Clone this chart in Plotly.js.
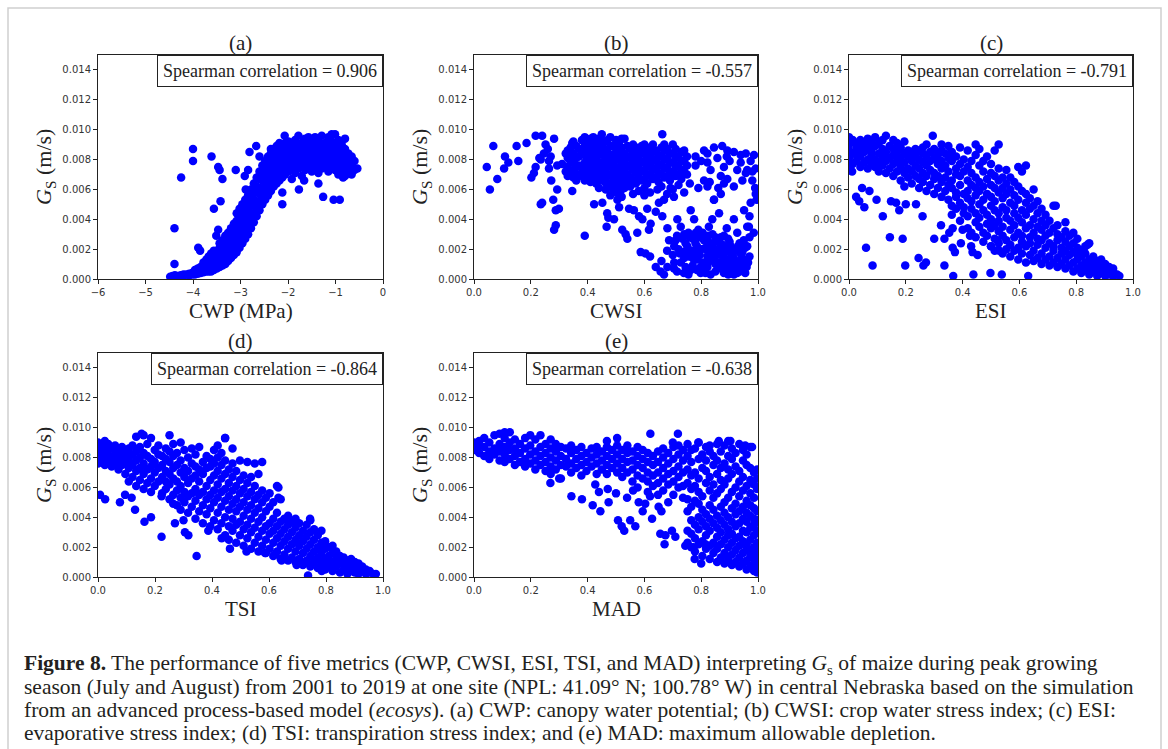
<!DOCTYPE html>
<html><head><meta charset="utf-8">
<script src="https://cdn.plot.ly/plotly-3.0.1.min.js"></script>
<style>html,body{margin:0;padding:0;background:#fff;}#chart{width:1168px;height:749px;}</style>
</head><body><div id="chart"></div>
<script>
const panelLabels = ['(a)', '(b)', '(c)', '(d)', '(e)'];
const xTitles = ['CWP (MPa)', 'CWSI', 'ESI', 'TSI', 'MAD'];
const yTitle = '<i>G</i><sub>S</sub> (m/s)';
const spearmanR = [0.906, -0.557, -0.791, -0.864, -0.638];
const yTickVals = [0, 0.002, 0.004, 0.006, 0.008, 0.010, 0.012, 0.014];
const cwpTickVals = [-6, -5, -4, -3, -2, -1, 0];
const indexTickVals = [0, 0.2, 0.4, 0.6, 0.8, 1.0];

// each entry: [x, [Gs values (m/s) read at that x]]
const cwpPoints = [
[-4.48,[0.00015]],[-4.43,[0.0002]],[-4.38,[0.00015,0.00025]],[-4.32,[0.0002]],[-4.26,[0.00025,0.00015]],
[-4.2,[0.0002,0.0003]],[-4.14,[0.0003]],[-4.08,[0.00035,0.00025]],[-4.02,[0.0004,0.0003]],
[-3.96,[0.00045,0.0003,0.0006]],[-3.9,[0.0005,0.00035,0.0007]],[-3.84,[0.00055,0.0004,0.0008]],
[-3.78,[0.0006,0.00045,0.0009,0.0011]],[-3.72,[0.0007,0.0005,0.001,0.0013]],[-3.67,[0.0008,0.0005,0.0012,0.0015]],
[-3.62,[0.0005,0.0009,0.0013,0.0017]],[-3.56,[0.0006,0.0011,0.0014,0.0019]],[-3.5,[0.0007,0.001,0.0015,0.0018]],
[-3.44,[0.0008,0.0012,0.0017,0.0021,0.0024]],[-3.38,[0.0009,0.0014,0.0018,0.0022,0.0026]],
[-3.32,[0.001,0.0015,0.0019,0.0024,0.0029]],[-3.26,[0.0012,0.0017,0.0022,0.0026,0.0031]],
[-3.2,[0.0014,0.0019,0.0023,0.0028,0.0034]],[-3.14,[0.0016,0.0021,0.0027,0.0031,0.0037]],
[-3.08,[0.0018,0.0024,0.0028,0.0033,0.0039,0.0044]],[-3.02,[0.0021,0.0026,0.0032,0.0036,0.0041,0.0047]],
[-2.96,[0.0024,0.0029,0.0034,0.004,0.0045,0.005]],[-2.9,[0.0027,0.0033,0.0037,0.0042,0.0048,0.0053]],
[-2.84,[0.003,0.0035,0.0041,0.0046,0.005,0.0056]],[-2.78,[0.0034,0.0039,0.0044,0.0049,0.0055,0.006]],
[-2.72,[0.0038,0.0043,0.0049,0.0053,0.0058,0.0064]],[-2.66,[0.0042,0.0047,0.0052,0.0058,0.0062,0.0068]],
[-2.6,[0.0046,0.0051,0.0057,0.0061,0.0067,0.0072]],[-2.54,[0.005,0.0055,0.006,0.0066,0.007,0.0076]],
[-2.48,[0.0053,0.0059,0.0063,0.0068,0.0074,0.0079]],[-2.42,[0.0056,0.0061,0.0067,0.0071,0.0077,0.0082]],
[-2.36,[0.0059,0.0064,0.0069,0.0075,0.0079,0.0084]],[-2.3,[0.0062,0.0068,0.0072,0.0077,0.0083,0.0087]],
[-2.24,[0.0064,0.0069,0.0075,0.0079,0.0085,0.0089]],[-2.18,[0.0066,0.0072,0.0076,0.0082,0.0086,0.0091]],
[-2.12,[0.0068,0.0073,0.0079,0.0083,0.0088]],
[-2.06,[0.007,0.0076,0.0081,0.0086,0.0091]],[-1.99,[0.0072,0.0077,0.0082,0.0088,0.0092]],
[-1.92,[0.0067,0.0075,0.008,0.0085,0.009]],[-1.85,[0.0071,0.0078,0.0083,0.0087,0.0093]],
[-1.78,[0.0074,0.0079,0.0084,0.0089,0.0096]],[-1.71,[0.0069,0.0076,0.0081,0.0086,0.0091]],
[-1.64,[0.0073,0.0078,0.0083,0.0088,0.0094]],[-1.57,[0.0076,0.008,0.0085,0.009,0.0095]],
[-1.5,[0.0072,0.0077,0.0082,0.0087,0.0092]],[-1.43,[0.0075,0.008,0.0084,0.0089,0.0095]],
[-1.36,[0.0071,0.0078,0.0083,0.0088,0.0093]],[-1.29,[0.0074,0.0079,0.0085,0.009,0.0096]],
[-1.22,[0.0076,0.0081,0.0086,0.0091]],[-1.15,[0.0072,0.0079,0.0084,0.0089,0.0095]],
[-1.08,[0.0075,0.008,0.0086,0.0092,0.0097]],[-1.01,[0.0073,0.0078,0.0083,0.0089,0.0097]],
[-0.94,[0.007,0.0076,0.0082,0.0087,0.0093]],[-0.87,[0.0073,0.0079,0.0084,0.009]],
[-0.8,[0.0069,0.0075,0.0081,0.0087,0.0094]],[-0.73,[0.0072,0.0078,0.0084]],
[-0.66,[0.007,0.0076,0.0082]],[-0.6,[0.0073,0.0079]],[-0.54,[0.0074]],
[-4.0,[0.0087,0.0079]],[-4.25,[0.0068]],[-3.61,[0.0082]],[-3.47,[0.0075,0.0033]],[-3.44,[0.0073]],
[-3.38,[0.0067]],[-3.42,[0.0052]],[-3.56,[0.0047]],[-4.39,[0.0034,0.001]],[-3.51,[0.0029]],
[-3.89,[0.0021]],[-3.85,[0.0019]],[-3.1,[0.0073]],[-2.84,[0.0073]],[-2.91,[0.0069]],[-2.89,[0.006]],
[-2.81,[0.0085]],[-2.67,[0.0089]],[-2.6,[0.0082]],[-2.36,[0.0087]],[-2.07,[0.0096]],[-2.19,[0.009]],
[-2.12,[0.0058,0.005]],[-1.77,[0.006]],[-1.66,[0.0066]],[-1.36,[0.0064]],[-1.26,[0.0055]],
[-1.04,[0.0053]],[-0.91,[0.0053]],[-0.84,[0.0068]]
];

const cwsiPoints = [
[0.045,[0.0075]],[0.056,[0.006]],[0.068,[0.0089]],[0.082,[0.0067]],[0.106,[0.0074]],[0.109,[0.0082]],
[0.121,[0.0078]],[0.15,[0.0089]],[0.156,[0.0079]],[0.185,[0.0091]],[0.202,[0.0068]],[0.211,[0.0071]],
[0.217,[0.0096,0.0075]],[0.235,[0.008,0.005]],[0.24,[0.0096,0.0051]],[0.246,[0.0084]],[0.252,[0.009]],
[0.264,[0.0079,0.0074]],[0.282,[0.0094,0.0033]],[0.272,[0.0066]],[0.293,[0.006,0.0076]],[0.279,[0.0053]],
[0.288,[0.0046,0.0036]],[0.299,[0.0047]],[0.39,[0.0029]],[0.31,[0.0077]],[0.323,[0.0084,0.0072]],
[0.346,[0.0091,0.0059]],[0.352,[0.0069]],[0.34,[0.008]],[0.23,[0.0081]],[0.26,[0.0087]],[0.27,[0.0082]],
[0.33,[0.0069,0.0075,0.0081,0.0086]],[0.35,[0.0068,0.0073,0.0079,0.0084,0.0092]],
[0.37,[0.007,0.0076,0.0082,0.0087]],[0.39,[0.0066,0.0072,0.0078,0.0083,0.0089,0.0095]],
[0.41,[0.0065,0.0071,0.0077,0.0082,0.0088,0.0094]],[0.43,[0.0064,0.007,0.0075,0.0081,0.0086,0.0092]],
[0.45,[0.0067,0.0073,0.0078,0.0084,0.009,0.0097]],[0.47,[0.0062,0.0069,0.0075,0.008,0.0086,0.0093]],
[0.49,[0.006,0.0066,0.0072,0.0078,0.0083,0.0089]],[0.51,[0.0063,0.0069,0.0074,0.008,0.0085,0.0091]],
[0.53,[0.0061,0.0067,0.0073,0.0079,0.0084,0.0094]],[0.55,[0.0062,0.0068,0.0075,0.0081,0.0087]],
[0.57,[0.0064,0.0071,0.0077,0.0082,0.0088]],[0.59,[0.0066,0.0072,0.0078,0.0084,0.0089]],
[0.61,[0.0064,0.007,0.0076,0.0081,0.0087]],[0.63,[0.0067,0.0073,0.0079,0.0085,0.009]],
[0.65,[0.0065,0.0071,0.0077,0.0083]],[0.67,[0.0068,0.0074,0.008,0.0086,0.009]],
[0.69,[0.0066,0.0072,0.0078,0.0084]],[0.71,[0.0069,0.0075,0.0081,0.0087]],
[0.73,[0.0067,0.0073,0.0079,0.0085]],[0.75,[0.007,0.0076,0.0082]],[0.663,[0.0097]],
[0.34,[0.0072,0.0078,0.0088]],[0.36,[0.0066,0.0075,0.0081,0.0089]],[0.38,[0.0069,0.0074,0.0086,0.0093]],
[0.4,[0.0068,0.0075,0.008,0.0086,0.0091]],[0.42,[0.0067,0.0073,0.0079,0.0085,0.009,0.0095]],
[0.44,[0.0066,0.0072,0.0077,0.0083,0.0088,0.0094]],[0.46,[0.0065,0.0071,0.0076,0.0082,0.0087,0.0092]],
[0.48,[0.0064,0.007,0.0077,0.0083,0.0089,0.0095]],[0.5,[0.0063,0.0068,0.0075,0.0081,0.0087,0.0093]],
[0.52,[0.0065,0.0071,0.0077,0.0082,0.0088,0.0094]],[0.54,[0.0064,0.007,0.0076,0.0082,0.0089]],
[0.56,[0.0066,0.0073,0.0079,0.0085,0.009]],[0.58,[0.0068,0.0074,0.008,0.0086]],
[0.6,[0.0067,0.0073,0.0079,0.0084,0.009]],[0.62,[0.0069,0.0075,0.0082,0.0088]],
[0.64,[0.0068,0.0074,0.008,0.0086]],[0.66,[0.007,0.0076,0.0082,0.0088]],
[0.68,[0.0069,0.0075,0.0081,0.0087]],[0.7,[0.0071,0.0078,0.0084,0.009]],
[0.72,[0.007,0.0076,0.0082]],[0.74,[0.0072,0.0079,0.0086]],
[0.81,[0.0086,0.0066]],[0.822,[0.0084,0.0062,0.0078]],[0.845,[0.0088,0.0053]],[0.874,[0.0089]],
[0.892,[0.0086,0.0067]],[0.915,[0.0085,0.0062,0.004]],[0.939,[0.0083,0.0078]],[0.957,[0.0084,0.0071]],
[0.986,[0.0083]],[0.974,[0.0079,0.0051]],[0.992,[0.0074,0.0057]],[0.857,[0.0081]],[0.88,[0.0075]],
[0.9,[0.0079]],[0.927,[0.0073,0.0031]],[0.89,[0.0082]],[0.833,[0.0073]],[0.869,[0.0069,0.0057,0.0028]],
[0.945,[0.0066]],[0.98,[0.0066]],[0.962,[0.0073,0.0022,0.0035]],[0.78,[0.0082,0.0076]],[0.8,[0.0079]],
[0.423,[0.005]],[0.452,[0.0051]],[0.464,[0.006]],[0.469,[0.0044]],[0.473,[0.0041]],[0.467,[0.0035]],
[0.493,[0.004]],[0.505,[0.0053]],[0.516,[0.0059]],[0.522,[0.0033]],[0.534,[0.003]],[0.54,[0.0027]],
[0.511,[0.0048]],[0.546,[0.0047]],[0.563,[0.0046]],[0.575,[0.0031]],[0.581,[0.0042]],[0.593,[0.004]],
[0.587,[0.0018]],[0.604,[0.0017]],[0.61,[0.0047]],[0.616,[0.0033]],[0.622,[0.0037]],[0.64,[0.0045]],
[0.646,[0.006]],[0.651,[0.0051]],[0.669,[0.0053]],[0.681,[0.0034]],[0.687,[0.0026]],[0.692,[0.0061]],
[0.704,[0.0055]],[0.716,[0.004]],[0.728,[0.0035]],[0.734,[0.0027]],[0.739,[0.0018]],[0.751,[0.0022]],
[0.757,[0.0015]],[0.763,[0.0046]],[0.775,[0.004]],[0.781,[0.0031]],[0.786,[0.0013]],[0.798,[0.0008]],
[0.81,[0.0026]],[0.822,[0.0019]],[0.827,[0.0035]],[0.839,[0.004]],[0.845,[0.0053]],[0.863,[0.0044]],
[0.88,[0.0017]],[0.892,[0.0013]],[0.904,[0.0022]],[0.939,[0.0017]],[0.951,[0.0046]],[0.957,[0.0011]],
[0.968,[0.0035]],[0.663,[0.0042]],
[0.657,[0.0005]],[0.669,[0.0003]],[0.681,[0.0008]],[0.704,[0.0007]],[0.728,[0.0011]],[0.739,[0.0004]],
[0.763,[0.0006]],[0.775,[0.0013]],[0.798,[0.0004]],[0.822,[0.0008]],[0.833,[0.0003]],[0.845,[0.0014]],
[0.869,[0.0007]],[0.88,[0.0004]],[0.892,[0.0008]],[0.904,[0.0013]],[0.927,[0.0004]],[0.939,[0.0008]],
[0.951,[0.0013]],[0.822,[0.0015]],[0.857,[0.0019]],[0.892,[0.0022]],[0.786,[0.0018]],[0.751,[0.0017]],
[0.78,[0.0024]],[0.8,[0.002]],[0.82,[0.0026]],[0.84,[0.0022]],[0.86,[0.0025]],[0.88,[0.0029]],
[0.9,[0.0025,0.0005]],[0.85,[0.001]],[0.87,[0.0016]],[0.92,[0.001]],[0.94,[0.0013]],[0.91,[0.0018]],
[0.83,[0.0012]],[0.81,[0.0006]],[0.77,[0.0009]],[0.74,[0.0014,0.003]],[0.72,[0.002]],[0.7,[0.0016]],
[0.68,[0.0019]],[0.66,[0.0012]],[0.64,[0.0008]],[0.62,[0.0015]],[0.76,[0.0028]],[0.79,[0.0033]],
[0.71,[0.0026]],[0.97,[0.0015]],[0.96,[0.0008]],[0.95,[0.0026]],[0.93,[0.0022]],[0.89,[0.0034]],[0.84,[0.003]],
[0.705,[0.0022,0.0011]],[0.715,[0.0005,0.0029]],[0.725,[0.0017]],[0.745,[0.0008,0.0024]],[0.755,[0.0031,0.0003]],
[0.765,[0.0019]],[0.77,[0.0014,0.0027]],[0.785,[0.0006,0.0022]],[0.795,[0.0016,0.0028]],[0.805,[0.0011,0.0031]],
[0.815,[0.0021,0.0004]],[0.825,[0.0013,0.0029]],[0.835,[0.0018,0.0024]],[0.85,[0.0005,0.0028]],[0.855,[0.0016]],
[0.865,[0.0011,0.0021]],[0.875,[0.0023,0.0009]],[0.885,[0.0013,0.0019]],[0.895,[0.0003,0.0027]],
[0.905,[0.0009,0.0017]],[0.915,[0.0014,0.0003]],[0.925,[0.0019,0.0007]],[0.935,[0.0005,0.0024]],
[0.945,[0.0018]],[0.955,[0.0004,0.0021]],[0.965,[0.0011]],[0.97,[0.0028]],
[0.98,[0.0072]],[0.99,[0.0061]],[0.995,[0.0053]],[0.97,[0.0042]],[0.985,[0.0031]],
[0.44,[0.0061]],[0.48,[0.0056]],[0.5,[0.0058]],[0.52,[0.0055]],[0.56,[0.0057]],[0.58,[0.0059]],
[0.6,[0.0056,0.0061]],[0.62,[0.0058]],[0.66,[0.0062]],[0.68,[0.0057]],[0.7,[0.006]],[0.72,[0.0063]],
[0.74,[0.0058]],[0.76,[0.0064]],[0.79,[0.0061]],[0.83,[0.0065]],[0.86,[0.0061]],[0.88,[0.0064]]
];

const esiPoints = [
[0.0,[0.0073,0.0081,0.0086,0.009,0.0095]],[0.013,[0.0077,0.0084,0.0093]],[0.026,[0.0079,0.0083,0.0088,0.0091]],
[0.04,[0.0075,0.0082,0.0087,0.0093]],[0.053,[0.0078,0.0085,0.009]],[0.066,[0.0074,0.008,0.0088,0.0094]],
[0.079,[0.0077,0.0083,0.0086,0.0092]],[0.092,[0.0075,0.008,0.0089,0.0095]],[0.105,[0.0072,0.0078,0.0084,0.0091]],
[0.118,[0.0076,0.0082,0.0087,0.0093]],[0.13,[0.0071,0.0079,0.0085,0.0096]],[0.143,[0.0074,0.0081,0.0089]],
[0.156,[0.0069,0.0077,0.0083,0.0087,0.0093]],[0.169,[0.0072,0.0079,0.0085,0.0091]],
[0.182,[0.0066,0.0075,0.0081,0.0088]],[0.195,[0.0062,0.0071,0.0078,0.0084,0.0092]],
[0.208,[0.0068,0.0074,0.0082,0.0086]],[0.221,[0.0064,0.0072,0.0079,0.0085]],
[0.234,[0.0069,0.0076,0.0083,0.0087]],[0.247,[0.0061,0.0067,0.0074,0.008,0.0086]],
[0.26,[0.0065,0.0071,0.0078,0.0084,0.0088]],[0.273,[0.0059,0.0069,0.0076,0.0082,0.009]],
[0.286,[0.0063,0.0073,0.0079,0.0085]],[0.295,[0.0096]],[0.3,[0.0057,0.0067,0.0071,0.0081,0.0087]],
[0.313,[0.0061,0.0069,0.0077,0.0083]],[0.326,[0.0055,0.0065,0.0074,0.0079,0.0086,0.009]],
[0.339,[0.0059,0.0068,0.0076,0.0084]],[0.35,[0.0053,0.0063,0.0072,0.0081,0.0089]],
[0.362,[0.0043,0.0049,0.0061,0.0066,0.0079,0.0085]],[0.377,[0.0047,0.0055,0.0058,0.007,0.0074,0.0082]],
[0.391,[0.0039,0.0051,0.0063,0.0069,0.0077,0.0088]],[0.404,[0.0044,0.0048,0.0057,0.0072,0.008]],
[0.418,[0.0034,0.0042,0.0054,0.0059,0.0066,0.0075,0.0086]],[0.431,[0.0031,0.0047,0.0052,0.0063,0.0071,0.0079]],
[0.446,[0.0028,0.0038,0.0044,0.0056,0.0061,0.0068,0.0083,0.009]],[0.459,[0.0035,0.0041,0.005,0.0059,0.0065,0.0076,0.0087]],
[0.473,[0.0025,0.0031,0.0046,0.0053,0.0062,0.0072,0.0079]],[0.486,[0.0029,0.0037,0.0043,0.0057,0.0067,0.0082]],
[0.5,[0.0022,0.0034,0.004,0.0049,0.0055,0.0063,0.0071,0.0077]],[0.513,[0.0019,0.0027,0.0036,0.0046,0.0052,0.0061,0.0069,0.0086]],
[0.527,[0.0024,0.0032,0.0039,0.0044,0.0058,0.0066,0.0074,0.009]],[0.541,[0.0017,0.0029,0.0035,0.0048,0.0054,0.0061,0.0068]],
[0.554,[0.002,0.0026,0.0041,0.0046,0.0057,0.0064,0.0073]],[0.568,[0.0015,0.0023,0.0033,0.0039,0.0051,0.006,0.0068]],
[0.582,[0.0019,0.0028,0.0036,0.0044,0.0049,0.0056,0.0065]],[0.596,[0.0013,0.0021,0.0031,0.0041,0.0053,0.0062,0.0075]],
[0.609,[0.0017,0.0025,0.0029,0.0038,0.0046,0.0059,0.0072]],[0.623,[0.0011,0.0022,0.0034,0.0043,0.0051,0.0057,0.0076]],
[0.637,[0.0016,0.0024,0.0028,0.0036,0.0047,0.0054]],[0.65,[0.0012,0.0019,0.0031,0.004,0.0049,0.006]],
[0.664,[0.0014,0.0023,0.0027,0.0035,0.0044,0.0052]],[0.678,[0.001,0.0017,0.0026,0.0033,0.0039,0.0047]],
[0.692,[0.0013,0.0021,0.0029,0.0036,0.0043]],[0.706,[0.0009,0.0015,0.0024,0.0031,0.0039]],
[0.72,[0.0011,0.0019,0.0022,0.0034,0.0049]],[0.734,[0.0008,0.0014,0.0026,0.003,0.0036]],
[0.748,[0.001,0.0017,0.0021,0.0028]],[0.762,[0.0007,0.0013,0.0019,0.0025,0.0032,0.0038]],
[0.776,[0.0009,0.0016,0.0022,0.0029]],[0.79,[0.0005,0.0011,0.0018,0.0024,0.0031]],
[0.804,[0.0007,0.0013,0.0016,0.0021,0.0027]],[0.818,[0.0004,0.0009,0.0015,0.0019]],
[0.832,[0.0006,0.0011,0.0017,0.0022]],[0.846,[0.0003,0.0008,0.0013,0.0024]],[0.86,[0.0005,0.001,0.0015]],
[0.874,[0.0002,0.0007,0.0012]],[0.888,[0.0004,0.0009,0.0013]],[0.902,[0.0002,0.0006,0.001]],
[0.916,[0.0003,0.0008]],[0.93,[0.0002,0.0005,0.0007]],[0.944,[0.0003]],[0.952,[0.0002]],
[0.011,[0.0072]],[0.025,[0.0055]],[0.046,[0.0061]],[0.036,[0.0052]],[0.054,[0.0048]],[0.072,[0.0059]],
[0.097,[0.0053]],[0.119,[0.0042]],[0.148,[0.0052]],[0.166,[0.0051]],[0.177,[0.0046]],[0.2,[0.005]],
[0.236,[0.005]],[0.259,[0.0042]],[0.144,[0.0028]],[0.189,[0.0027]],[0.06,[0.0021]],[0.083,[0.0009]],
[0.198,[0.0009]],[0.245,[0.0014]],[0.271,[0.0011]],[0.262,[0.0009]],[0.3,[0.0027]],[0.336,[0.0027,0.0009]],
[0.367,[0.0002]],[0.438,[0.0003]],[0.498,[0.0004]],[0.538,[0.0003]],[0.631,[0.0002]],[0.365,[0.0021,0.0034]],
[0.373,[0.0018]],[0.394,[0.0024]],[0.435,[0.0018]],[0.453,[0.0016]],[0.43,[0.0022]],[0.5,[0.0022]],
[0.523,[0.0026]],[0.529,[0.0019]],[0.324,[0.0036]],[0.353,[0.0031]],[0.4,[0.0033]],[0.426,[0.0029]],
[0.728,[0.0049]],[0.84,[0.0023]]
];

const tsiPoints = [
[0.0,[0.0076,0.008,0.0086,0.009]],[0.012,[0.0078,0.0083,0.0088]],[0.024,[0.0075,0.0081,0.0085,0.0091]],
[0.036,[0.0077,0.0082,0.0089]],[0.048,[0.0074,0.0079,0.0086]],[0.06,[0.0076,0.0082,0.0088]],
[0.072,[0.0072,0.0078,0.0084]],[0.084,[0.0075,0.008,0.0087]],[0.096,[0.0069,0.0077,0.0083]],
[0.108,[0.0064,0.0073,0.0079,0.0086]],[0.121,[0.0067,0.0075,0.0082,0.0088]],
[0.134,[0.0061,0.0071,0.0078,0.0084,0.0094]],[0.147,[0.0065,0.0073,0.008,0.0087]],
[0.16,[0.0059,0.0069,0.0076,0.0083,0.0095]],[0.173,[0.0063,0.0072,0.0081,0.0089]],
[0.186,[0.0057,0.0066,0.0074,0.0079,0.0093]],[0.199,[0.0061,0.007,0.0077,0.0085]],
[0.212,[0.0064,0.0073,0.0082,0.0088]],[0.225,[0.0056,0.0067,0.0075,0.0081]],
[0.238,[0.0059,0.0064,0.0071,0.0079,0.0086]],[0.251,[0.0052,0.0062,0.0069,0.0077,0.0084,0.0095]],
[0.264,[0.0055,0.0066,0.0073,0.0081,0.0089]],[0.277,[0.0048,0.0058,0.0064,0.0075,0.0083]],
[0.29,[0.0045,0.0053,0.0061,0.007,0.0078,0.009]],[0.303,[0.005,0.0057,0.0067,0.0073,0.0085]],
[0.316,[0.0043,0.0054,0.0063,0.0071,0.008]],[0.329,[0.0047,0.0056,0.0066,0.0076,0.0086]],
[0.342,[0.0039,0.0051,0.0059,0.0068,0.0074,0.0082]],[0.355,[0.0044,0.0055,0.0064,0.0072,0.0087]],
[0.368,[0.0036,0.0048,0.0057,0.0069,0.0077]],[0.381,[0.0042,0.0052,0.0061,0.0073,0.0081]],
[0.394,[0.0034,0.0046,0.0055,0.0065,0.0074,0.0079]],[0.407,[0.0038,0.005,0.0058,0.0068,0.0076,0.0085]],
[0.42,[0.0032,0.0043,0.0053,0.0062,0.0071,0.008,0.0088]],[0.433,[0.0036,0.0047,0.0057,0.0066,0.0075,0.0083]],
[0.446,[0.0028,0.004,0.0051,0.0059,0.0069,0.0078,0.0093]],[0.459,[0.0025,0.0034,0.0045,0.0054,0.0063,0.0072]],
[0.472,[0.0031,0.0039,0.0049,0.0058,0.0067,0.0076,0.0086]],[0.485,[0.0023,0.0035,0.0044,0.0052,0.0061,0.0071]],
[0.498,[0.0028,0.0037,0.0047,0.0056,0.0065,0.0078]],[0.511,[0.0021,0.0032,0.0041,0.005,0.0059,0.0068]],
[0.524,[0.0026,0.0035,0.0045,0.0054,0.0063,0.0077]],[0.537,[0.0019,0.003,0.0039,0.0048,0.0057,0.0067]],
[0.55,[0.0023,0.0033,0.0043,0.0052,0.0061,0.0076]],[0.563,[0.0017,0.0027,0.0037,0.0046,0.0055,0.0069]],
[0.576,[0.0021,0.0031,0.004,0.005,0.0058,0.0077]],[0.589,[0.0016,0.0025,0.0034,0.0044,0.0053]],
[0.602,[0.0019,0.0029,0.0036,0.0047,0.0056]],[0.615,[0.0014,0.0023,0.0031,0.0039,0.005]],
[0.628,[0.0017,0.0026,0.0034,0.0043,0.0061]],[0.641,[0.0012,0.0021,0.0029,0.0037,0.0052]],
[0.654,[0.0015,0.0024,0.0032,0.0039]],[0.667,[0.0011,0.0019,0.0027,0.0035,0.0041]],
[0.68,[0.0013,0.0022,0.003,0.0037]],[0.693,[0.001,0.0017,0.0025,0.0033,0.0039]],
[0.706,[0.0012,0.0021,0.0028,0.0036]],[0.719,[0.0008,0.0016,0.0024,0.0031]],
[0.732,[0.0011,0.0019,0.0027,0.0035]],[0.745,[0.0007,0.0014,0.0022,0.003,0.0038]],
[0.758,[0.001,0.0017,0.0025,0.0032]],[0.771,[0.0006,0.0013,0.002,0.0028]],
[0.784,[0.0009,0.0016,0.0023,0.0031]],[0.797,[0.0005,0.0012,0.0019,0.0024]],
[0.81,[0.0008,0.0014,0.002]],[0.823,[0.0004,0.001,0.0016,0.0021]],[0.836,[0.0007,0.0012,0.0017]],
[0.849,[0.0003,0.0009,0.0014]],[0.862,[0.0005,0.001,0.0013]],[0.875,[0.0002,0.0007,0.0011]],
[0.888,[0.0004,0.0009,0.0012]],[0.901,[0.0003,0.0007,0.001]],[0.914,[0.0002,0.0005,0.0009]],
[0.927,[0.0004,0.0007]],[0.94,[0.0002,0.0005]],[0.953,[0.0003,0.0004]],[0.966,[0.0002]],[0.975,[0.0002]],
[0.007,[0.0055]],[0.025,[0.0052]],[0.077,[0.005]],[0.095,[0.0055]],[0.118,[0.0053]],[0.13,[0.0045]],
[0.163,[0.0037]],[0.186,[0.004]],[0.223,[0.0054,0.0027]],[0.27,[0.0036]],[0.305,[0.003]],[0.317,[0.0028]],
[0.346,[0.0014]],[0.264,[0.0049]],[0.3,[0.0038]],[0.387,[0.0031]],[0.434,[0.0026]],[0.463,[0.0019]],
[0.521,[0.0017]],[0.586,[0.0016]],[0.621,[0.0015]],[0.644,[0.0011]],[0.737,[0.0001]],[0.697,[0.0008]],
[0.785,[0.0004]],[0.808,[0.0007]],[0.153,[0.0096]],[0.446,[0.0093]],[0.633,[0.006,0.0053]],[0.744,[0.0039]]
];

const madPoints = [
[0.0,[0.0085,0.009]],[0.018,[0.0083,0.0088,0.0091]],[0.036,[0.0081,0.0087,0.0093]],[0.054,[0.0079,0.0084,0.009]],
[0.072,[0.0082,0.0086,0.0095]],[0.09,[0.0078,0.0084,0.0089,0.0096]],[0.108,[0.0077,0.0082,0.0087,0.0093,0.0097]],
[0.126,[0.0079,0.0085,0.009,0.0097]],[0.144,[0.0075,0.0081,0.0086,0.0092]],[0.162,[0.0077,0.0083,0.0089]],
[0.18,[0.0074,0.0079,0.0086,0.0093]],[0.198,[0.0076,0.0082,0.0088,0.0095]],[0.216,[0.0072,0.0078,0.0084,0.0092]],
[0.234,[0.0075,0.0081,0.0087,0.0095]],[0.252,[0.0071,0.0077,0.0083,0.0089]],[0.27,[0.0069,0.0074,0.008,0.0086,0.0092]],
[0.288,[0.0072,0.0078,0.0084,0.0089]],[0.306,[0.0066,0.0075,0.0081,0.0087]],[0.324,[0.0074,0.0079,0.0086]],
[0.342,[0.007,0.0076,0.0083,0.0088]],[0.36,[0.0073,0.0079,0.0085]],[0.378,[0.0068,0.0075,0.0081,0.0087]],
[0.396,[0.0071,0.0077,0.0083]],[0.414,[0.0074,0.008,0.0086]],[0.432,[0.0069,0.0076,0.0082,0.0087]],
[0.45,[0.0072,0.0078,0.0084]],[0.468,[0.0069,0.0075,0.0081,0.0087,0.0091]],[0.486,[0.0073,0.0079,0.0085]],
[0.504,[0.007,0.0076,0.0082,0.0088,0.0093]],[0.522,[0.0067,0.0073,0.0079,0.0085]],[0.54,[0.007,0.0077,0.0083,0.0088]],
[0.558,[0.0064,0.0072,0.0078,0.0084]],[0.576,[0.006,0.0068,0.0075,0.0081,0.0087]],
[0.594,[0.0066,0.0073,0.0079,0.0085]],[0.612,[0.0057,0.0064,0.007,0.0077,0.0083]],[0.621,[0.0096]],
[0.63,[0.0061,0.0068,0.0075,0.0081]],[0.648,[0.0055,0.0063,0.007,0.0077,0.0084]],
[0.666,[0.0058,0.0066,0.0073,0.008,0.0086]],[0.684,[0.005,0.0062,0.0069,0.0076,0.0083]],
[0.702,[0.0055,0.0064,0.0071,0.0079,0.0087]],[0.718,[0.0096]],[0.72,[0.006,0.0067,0.0074,0.0082,0.0088]],
[0.736,[0.0053,0.0061,0.007,0.0078,0.0085]],
[0.752,[0.0023,0.0031,0.0044,0.0052,0.0063,0.0072,0.0081,0.0089]],
[0.765,[0.002,0.0029,0.0038,0.0047,0.0059,0.0068,0.0077,0.0085]],
[0.778,[0.0017,0.0026,0.0035,0.0051,0.0061,0.007,0.0086]],
[0.791,[0.0022,0.0032,0.004,0.0049,0.0057,0.0066,0.0079,0.009]],
[0.804,[0.0014,0.0024,0.0037,0.0045,0.0054,0.0073,0.0082]],
[0.817,[0.0019,0.0028,0.0034,0.0042,0.0063,0.0071,0.0078,0.0087]],
[0.83,[0.0012,0.0021,0.0031,0.0039,0.0048,0.0058,0.0067,0.0084]],
[0.843,[0.0016,0.0023,0.0036,0.0045,0.0053,0.0062,0.0075,0.0081]],
[0.856,[0.001,0.0019,0.0027,0.0033,0.0041,0.0056,0.0069,0.0078,0.0089]],
[0.869,[0.0013,0.0022,0.003,0.0038,0.0047,0.0059,0.0065,0.0073,0.0084]],
[0.882,[0.0009,0.0016,0.0025,0.0035,0.0043,0.005,0.0062,0.0076,0.0088]],
[0.895,[0.0012,0.002,0.0028,0.0032,0.004,0.0053,0.0066,0.0072,0.0081,0.0091]],
[0.908,[0.0008,0.0015,0.0023,0.0029,0.0037,0.0046,0.0057,0.0069,0.0079,0.0086]],
[0.921,[0.001,0.0018,0.0026,0.0034,0.0042,0.0049,0.006,0.0074,0.0083]],
[0.934,[0.0007,0.0013,0.0021,0.0027,0.0036,0.0044,0.0054,0.0064,0.0071,0.0089]],
[0.947,[0.0009,0.0016,0.0024,0.0031,0.0039,0.0047,0.0058,0.0067,0.0078,0.0085]],
[0.96,[0.0005,0.0011,0.0019,0.0022,0.003,0.0037,0.0043,0.0051,0.0061,0.0075,0.0082]],
[0.973,[0.0007,0.0014,0.0017,0.0025,0.0033,0.0041,0.0048,0.0056,0.0065,0.0073,0.0087]],
[0.986,[0.0004,0.0009,0.0012,0.002,0.0028,0.0035,0.0039,0.0046,0.0053,0.0062,0.007]],
[0.997,[0.0003,0.0006,0.001,0.0015,0.0018,0.0023,0.0031,0.0038,0.0044,0.0059,0.0066,0.0072]],
[0.862,[0.0091]],[0.903,[0.0091]],[0.955,[0.0088]],[0.979,[0.0087]],[0.7,[0.009]],[0.79,[0.009]],[0.83,[0.0088]],
[0.269,[0.0063]],[0.3,[0.0066]],[0.343,[0.0054]],[0.38,[0.0052]],[0.418,[0.0048]],[0.445,[0.0044]],
[0.427,[0.0062]],[0.471,[0.0059]],[0.474,[0.005]],[0.5,[0.0056]],[0.507,[0.0038]],[0.529,[0.0031]],
[0.55,[0.0038]],[0.568,[0.0034]],[0.539,[0.0053]],[0.594,[0.0044]],[0.603,[0.0049]],[0.627,[0.0039]],
[0.65,[0.0047]],[0.656,[0.0029]],[0.674,[0.0028]],[0.671,[0.0022]],[0.697,[0.0031]],[0.709,[0.0027]],
[0.744,[0.0021]],[0.773,[0.002]],[0.777,[0.0012]],[0.8,[0.0009]],[0.815,[0.0022]],[0.52,[0.0034]],
[0.58,[0.005]],[0.62,[0.0054]],[0.66,[0.0044]],[0.56,[0.0058]],[0.44,[0.0057]]
];

const captionLines = [
  '<b>Figure 8.</b> The performance of five metrics (CWP, CWSI, ESI, TSI, and MAD) interpreting <i>G</i><sub>s</sub> of maize during peak growing',
  'season (July and August) from 2001 to 2019 at one site (NPL: 41.09° N; 100.78° W) in central Nebraska based on the simulation',
  'from an advanced process-based model (<i>ecosys</i>). (a) CWP: canopy water potential; (b) CWSI: crop water stress index; (c) ESI:',
  'evaporative stress index; (d) TSI: transpiration stress index; and (e) MAD: maximum allowable depletion.'
];

const W = 1168, H = 749;
const px = v => v / W, py = v => 1 - v / H;
const boxes = [[98,383,55,279],[474,758,55,279],[849,1133,55,279],[98,383,353,577],[474,758,353,577]];
const allSeries = [cwpPoints, cwsiPoints, esiPoints, tsiPoints, madPoints];

const traces = [];
const layout = {
  width: W, height: H, margin: {l:0, r:0, t:0, b:0},
  paper_bgcolor: '#fff', plot_bgcolor: '#fff', showlegend: false,
  shapes: [], annotations: []
};
const tickFont = {family: 'DejaVu Sans', size: 10, color: '#333'};
const serif = 'Liberation Serif';

allSeries.forEach((cols, i) => {
  const xs = [], ys = [];
  cols.forEach(c => c[1].forEach(v => { xs.push(c[0]); ys.push(v); }));
  const s = i === 0 ? '' : String(i + 1);
  const [l, r, t, b] = boxes[i];
  traces.push({type:'scatter', mode:'markers', x:xs, y:ys, xaxis:'x'+s, yaxis:'y'+s,
    marker:{color:'#0000ff', size:8.5, line:{width:0}}, hoverinfo:'skip', cliponaxis:true});
  const common = {showline:true, mirror:true, linecolor:'#222', linewidth:1, ticks:'outside',
    ticklen:4, tickwidth:1, tickcolor:'#222', showgrid:false, zeroline:false, tickfont:tickFont};
  layout['xaxis'+s] = Object.assign({}, common, {
    domain:[px(l), px(r)], anchor:'y'+s,
    range: i === 0 ? [-6, 0] : [0, 1],
    tickmode:'array', tickvals: i === 0 ? cwpTickVals : indexTickVals,
    tickformat: i === 0 ? 'd' : '.1f'
  });
  layout['yaxis'+s] = Object.assign({}, common, {
    domain:[py(b), py(t)], anchor:'x'+s, range:[0, 0.015],
    tickmode:'array', tickvals:yTickVals, tickformat:'.3f'
  });
  layout.annotations.push({xref:'paper', yref:'paper', x:px((l + r) / 2), y:py(b + 32),
    xanchor:'center', yanchor:'middle', showarrow:false, text:xTitles[i],
    font:{family:serif, size:21, color:'#222'}});
  layout.annotations.push({xref:'paper', yref:'paper', x:px(l - 53), y:py((t + b) / 2),
    xanchor:'center', yanchor:'middle', textangle:-90, showarrow:false, text:yTitle,
    font:{family:serif, size:22, color:'#222'}});
  layout.annotations.push({xref:'paper', yref:'paper', x:px((l + r) / 2), y:py(t - 12),
    xanchor:'center', yanchor:'middle', showarrow:false, text:panelLabels[i],
    font:{family:serif, size:21, color:'#222'}});
  layout.annotations.push({xref:'paper', yref:'paper', x:px(r), y:py(t), xanchor:'right', yanchor:'top',
    showarrow:false, text:'Spearman correlation = ' + spearmanR[i].toFixed(3),
    font:{family:serif, size:18, color:'#222'}, bordercolor:'#222', borderwidth:1, borderpad:5, bgcolor:'#fff'});
});

const captionY = [664, 687, 710, 733];
captionLines.forEach((t, k) => {
  layout.annotations.push({xref:'paper', yref:'paper', x:px(22), y:py(captionY[k]), xanchor:'left',
    yanchor:'middle', align:'left', showarrow:false, text:t, font:{family:serif, size:21.5, color:'#231f20'}});
});

layout.shapes.push({type:'rect', xref:'paper', yref:'paper', x0:px(8), x1:px(1161), y0:py(770), y1:py(8),
  line:{color:'#cfcfcf', width:1.5}, fillcolor:'rgba(0,0,0,0)', layer:'below'});

Plotly.newPlot('chart', traces, layout, {displayModeBar:false, staticPlot:true});
</script>
</body></html>
